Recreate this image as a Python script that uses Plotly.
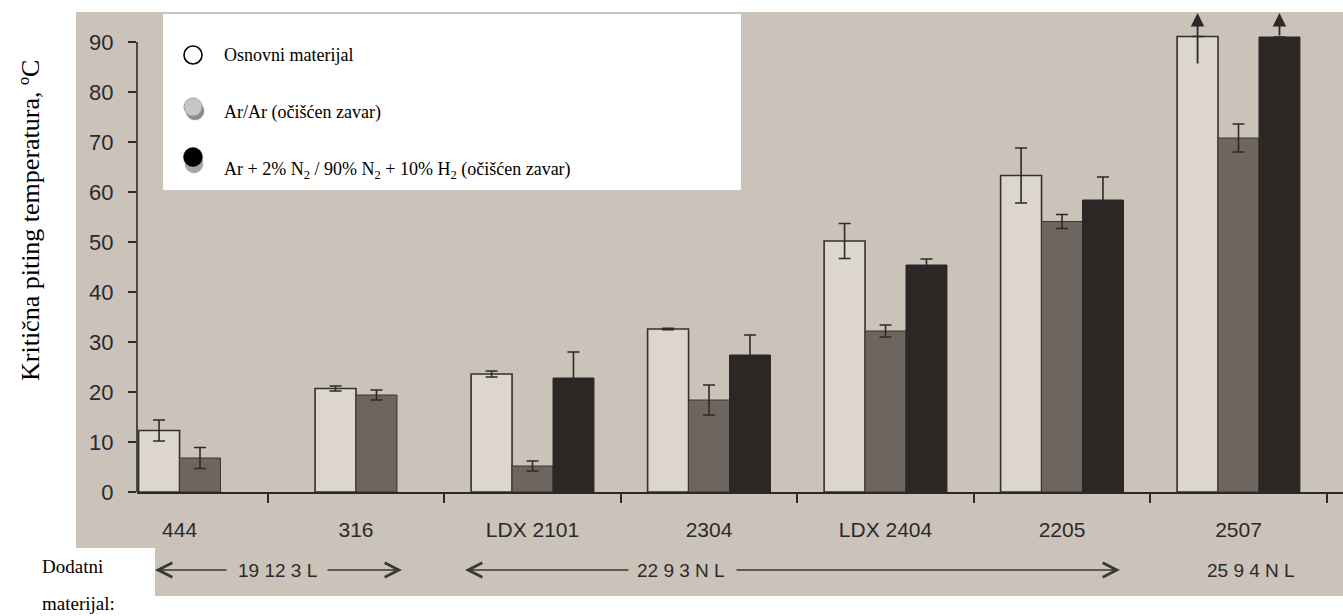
import plotly.graph_objects as go

# ---------------- data ----------------
categories = ["444", "316", "LDX 2101", "2304", "LDX 2404", "2205", "2507"]
osnovni = [12.3, 20.7, 23.6, 32.6, 50.2, 63.3, 91.1]
osnovni_err = [2.1, 0.5, 0.6, 0.15, 3.5, 5.5, 5.7]
osnovni_open = [False, False, False, False, False, False, True]
arar = [6.8, 19.4, 5.2, 18.4, 32.2, 54.1, 70.8]
arar_err = [2.1, 1.0, 1.0, 3.0, 1.2, 1.4, 2.8]
n2h2 = [None, None, 22.8, 27.4, 45.4, 58.4, 91.0]
n2h2_err = [None, None, 5.2, 4.0, 1.2, 4.6, None]
n2h2_open = [False, False, False, False, False, False, True]
ytick_vals = [0, 10, 20, 30, 40, 50, 60, 70, 80, 90]
filler_groups = ["19 12 3 L", "22 9 3 N L", "25 9 4 N L"]
legend_names = [
    "Osnovni materijal",
    "Ar/Ar (očišćen zavar)",
    "Ar + 2% N<sub>2</sub> / 90% N<sub>2</sub> + 10% H<sub>2</sub> (očišćen zavar)",
]

# ---------------- layout constants ----------------
W, H = 1343, 616
L, R, T, B = 137, 1343, 12, 492
YMAX = 96
XRANGE = [-0.241, 6.592]
BW = 0.232  # bar width in category units

BG = "#cbc3b9"
WHITE_BAR = "#dcd6cf"
GREY_BAR = "#6f655f"
BLACK_BAR = "#2b2725"
INK = "#2c2a29"
SANS = "Liberation Sans, Arial, sans-serif"
SERIF = "Liberation Serif, Times New Roman, serif"


def px_x(p):
    return (p - L) / (R - L)


def px_y(p):
    return (B - p) / (B - T)


def sym(errs, opens=None):
    out = []
    for i, e in enumerate(errs):
        if e is None or (opens and opens[i]):
            out.append(None)
        else:
            out.append(e)
    return out


three = [v is not None for v in n2h2]
off_white = [-1.5 * BW if t else -1.0 * BW for t in three]
off_grey = [-0.5 * BW if t else 0.0 for t in three]
off_black = [0.5 * BW for _ in three]

fig = go.Figure()


def add_bars(name, vals, errs, opens, offs, fill, line_color, line_w):
    e = sym(errs, opens)
    fig.add_trace(go.Bar(
        name=name, x=categories, y=vals, width=BW, offset=offs,
        marker=dict(color=fill, line=dict(color=line_color, width=line_w)),
        error_y=dict(type="data", symmetric=True, array=e,
                     color=INK, thickness=1.6, width=6),
        showlegend=False, cliponaxis=False,
    ))


add_bars(legend_names[0], osnovni, osnovni_err, osnovni_open, off_white,
         WHITE_BAR, "#333030", 1.6)
add_bars(legend_names[1], arar, arar_err, None, off_grey,
         GREY_BAR, "#3a3634", 1.0)
add_bars(legend_names[2], n2h2, n2h2_err, n2h2_open, off_black,
         BLACK_BAR, BLACK_BAR, 1.0)

annotations = []
shapes = []

# open-ended error bars -> arrows up to the top of the plot
for vals, errs, opens, offs in [
    (osnovni, osnovni_err, osnovni_open, off_white),
    (n2h2, n2h2_err, n2h2_open, off_black),
]:
    for i, op in enumerate(opens):
        if op and vals[i] is not None:
            xc = i + offs[i] + BW / 2
            start = vals[i] - (errs[i] or 0)
            annotations.append(dict(
                x=xc, y=YMAX - 0.2, xref="x", yref="y",
                ax=xc, ay=start, axref="x", ayref="y",
                showarrow=True, arrowhead=2, arrowsize=1.5, arrowwidth=1.8,
                arrowcolor=INK, text="",
            ))

# photo-like background
shapes.append(dict(type="rect", xref="paper", yref="paper", layer="below",
                   x0=px_x(76), x1=1.0, y0=px_y(596), y1=1.0,
                   fillcolor=BG, line=dict(width=0)))
# y axis line (0..90)
shapes.append(dict(type="line", xref="paper", yref="y", x0=0, x1=0,
                   y0=0, y1=ytick_vals[-1], line=dict(color=INK, width=1.6)))
# legend box
shapes.append(dict(type="rect", xref="paper", yref="paper",
                   x0=px_x(163), x1=px_x(741), y0=px_y(190), y1=px_y(14),
                   fillcolor="white", line=dict(width=0)))
# "Dodatni materijal" box
shapes.append(dict(type="rect", xref="paper", yref="paper",
                   x0=px_x(0), x1=px_x(155), y0=px_y(616), y1=px_y(548),
                   fillcolor="white", line=dict(width=0)))


def circle(cx, cy, r, fill, lc, lw):
    shapes.append(dict(type="circle", xref="paper", yref="paper",
                       x0=px_x(cx - r), x1=px_x(cx + r),
                       y0=px_y(cy + r), y1=px_y(cy - r),
                       fillcolor=fill, line=dict(color=lc, width=lw)))


circle(193, 55, 9, "white", "black", 1.6)
circle(195, 111, 9, "#8c8c8c", "#8c8c8c", 0.5)
circle(193, 107, 9, "#c6c6c6", "#a0a0a0", 1)
circle(194, 164, 9, "#a5a5a5", "#a5a5a5", 0.5)
circle(193, 157, 9.5, "black", "black", 0.5)


def text_at(px, py, txt, font, xanchor="left", angle=0):
    annotations.append(dict(x=px_x(px), y=px_y(py), xref="paper", yref="paper",
                            xanchor=xanchor, yanchor="middle", showarrow=False,
                            textangle=angle, text=txt, font=font))


for name, cy in zip(legend_names, [55, 112, 170]):
    text_at(222, cy, name, dict(family=SERIF, size=18, color="black"))

# y axis title
text_at(30, 221, "Kritična piting temperatura, ºC",
        dict(family=SERIF, size=26, color="black"), xanchor="center", angle=-90)

# Dodatni materijal
text_at(40, 566, "Dodatni", dict(family=SERIF, size=19, color="black"))
text_at(40, 603, "materijal:", dict(family=SERIF, size=19, color="black"))

# filler metal groups with arrows
ROW = 570
for txt, cx in zip(filler_groups, [277, 681, 1251]):
    text_at(cx, ROW, txt, dict(family=SANS, size=19, color=INK), xanchor="center")
for head, tail in [(155, 228), (402, 326), (465, 630), (1120, 735)]:
    annotations.append(dict(x=px_x(head), y=px_y(ROW), xref="paper", yref="paper",
                            ax=tail - head, ay=0, axref="pixel", ayref="pixel",
                            showarrow=True, arrowhead=5, arrowsize=2.0,
                            arrowwidth=1.4, arrowcolor="#3a3837", text=""))

fig.update_layout(
    width=W, height=H,
    margin=dict(l=L, r=W - R, t=T, b=H - B, pad=0),
    paper_bgcolor="white",
    plot_bgcolor="rgba(0,0,0,0)",
    barmode="overlay",
    showlegend=False,
    shapes=shapes,
    annotations=annotations,
    xaxis=dict(
        type="category", range=XRANGE, tickson="boundaries",
        ticks="outside", ticklen=9, tickwidth=1.6, tickcolor=INK,
        showline=True, linecolor=INK, linewidth=1.6,
        showgrid=False, zeroline=False,
        tickfont=dict(family=SANS, size=21, color=INK),
        ticklabelstandoff=18,
    ),
    yaxis=dict(
        range=[0, YMAX], tickvals=ytick_vals,
        ticks="outside", ticklen=8, tickwidth=1.6, tickcolor=INK,
        showline=False, showgrid=False, zeroline=False,
        tickfont=dict(family=SANS, size=22, color=INK),
        ticklabelstandoff=10,
    ),
)

fig.write_html("out.html", config={"displayModeBar": False},
               post_script="document.body.style.margin='0';document.body.style.padding='0';")
